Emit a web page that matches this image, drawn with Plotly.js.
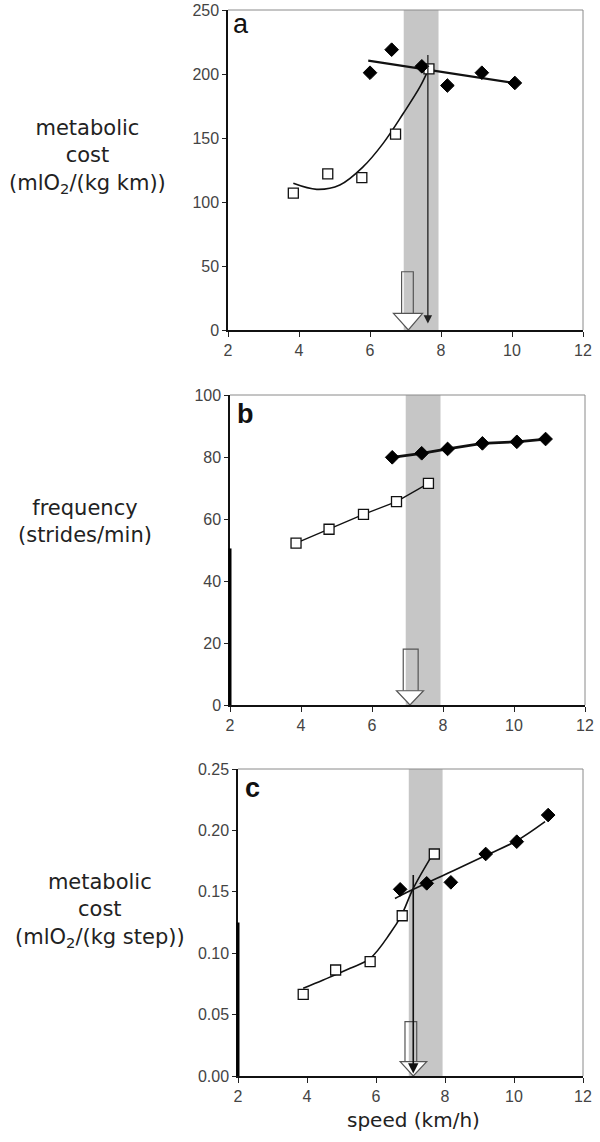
<!DOCTYPE html>
<html>
<head>
<meta charset="utf-8">
<script src="https://cdn.plot.ly/plotly-3.0.1.min.js"></script>
<style>html,body{margin:0;padding:0;background:#fff;}#chart{width:600px;height:1142px;}</style>
</head>
<body>
<div id="chart"></div>
<script>
// ---------- data ----------
const xTicks = [2, 4, 6, 8, 10, 12];
const bandRange = [6.95, 7.93];

// panel a: metabolic cost per km
const aWalkX = [3.84, 4.81, 5.77, 6.72, 7.66];
const aWalkY = [107, 122, 119, 153, 204];
const aRunX = [6.0, 6.61, 7.46, 8.18, 9.15, 10.08];
const aRunY = [201, 219, 206, 191, 201, 193];
const aWalkFitX = [3.84, 4.50, 5.15, 5.81, 6.37, 6.94, 7.41, 7.66];
const aWalkFitY = [114.6, 109.9, 113.3, 127.6, 145.8, 169.3, 190.1, 204.4];
const aRunFitX = [5.95, 10.13];
const aRunFitY = [210.4, 192.7];
const aArrowX = 7.63, aArrowY = [216, 5];
const aShaftX = [6.89, 7.22], aShaftY = [45.5, 13];
const aHeadX = [6.66, 7.08, 7.48], aHeadY = [13, 0, 13];

// panel b: stride frequency
const bWalkX = [3.86, 4.79, 5.76, 6.69, 7.59];
const bWalkY = [52.2, 56.7, 61.5, 65.6, 71.5];
const bRunX = [6.57, 7.40, 8.13, 9.11, 10.08, 10.89];
const bRunY = [79.9, 81.2, 82.6, 84.4, 84.9, 85.8];
const bShaftX = [6.88, 7.30], bShaftY = [18, 4.6];
const bHeadX = [6.69, 7.07, 7.45], bHeadY = [4.6, 0, 4.6];

// panel c: metabolic cost per step
const cWalkX = [3.89, 4.83, 5.83, 6.76, 7.69];
const cWalkY = [0.0665, 0.0863, 0.0931, 0.1305, 0.1808];
const cRunX = [6.70, 7.47, 8.17, 9.18, 10.08, 10.99];
const cRunY = [0.152, 0.1569, 0.1577, 0.1808, 0.1908, 0.2125];
const cWalkFitX = [3.89, 4.47, 5.25, 5.83, 6.41, 6.74, 7.08, 7.66];
const cWalkFitY = [0.0714, 0.0782, 0.0877, 0.0958, 0.1162, 0.1311, 0.1528, 0.1813];
const cRunFitX = [6.55, 6.70, 8.24, 9.21, 10.08, 10.90];
const cRunFitY = [0.1445, 0.1468, 0.1672, 0.1800, 0.1916, 0.2071];
const cArrowX = 7.08, cArrowY = [0.165, 0.002];
const cShaftX = [6.84, 7.18], cShaftY = [0.0442, 0.0117];
const cHeadX = [6.70, 7.08, 7.47], cHeadY = [0.0117, 0.0, 0.0117];

// ---------- styling ----------
const tickFont = {family: 'Liberation Sans, Arial, sans-serif', size: 16, color: '#444'};
const labelFont = {family: 'DejaVu Sans, sans-serif', size: 21, color: '#222'};
const openSq = {symbol: 'square', size: 10, color: '#fff', line: {color: '#111', width: 1.3}};
const filledDia = {symbol: 'diamond', size: 10.5, color: '#000', line: {color: '#000', width: 1}};

function fitLine(x, y, xa, ya, w, shape) {
  return {x: x, y: y, xaxis: xa, yaxis: ya, mode: 'lines', hoverinfo: 'skip',
          line: {color: '#111', width: w, shape: shape || 'linear', smoothing: 1}};
}
function pts(x, y, xa, ya, marker) {
  return {x: x, y: y, xaxis: xa, yaxis: ya, mode: 'markers', marker: marker, hoverinfo: 'skip'};
}
function linePts(x, y, xa, ya, marker, w) {
  return {x: x, y: y, xaxis: xa, yaxis: ya, mode: 'lines+markers', marker: marker,
          line: {color: '#111', width: w}, hoverinfo: 'skip'};
}

const traces = [
  fitLine(aWalkFitX, aWalkFitY, 'x', 'y', 1.6, 'spline'),
  fitLine(aRunFitX, aRunFitY, 'x', 'y', 2.2),
  pts(aWalkX, aWalkY, 'x', 'y', openSq),
  pts(aRunX, aRunY, 'x', 'y', filledDia),

  linePts(bWalkX, bWalkY, 'x2', 'y2', openSq, 1.3),
  linePts(bRunX, bRunY, 'x2', 'y2', filledDia, 2.8),

  fitLine(cWalkFitX, cWalkFitY, 'x3', 'y3', 1.6, 'spline'),
  fitLine(cRunFitX, cRunFitY, 'x3', 'y3', 1.6, 'spline'),
  pts(cWalkX, cWalkY, 'x3', 'y3', openSq),
  pts(cRunX, cRunY, 'x3', 'y3', filledDia)
];

function xAxis(domain, anchor) {
  return {domain: domain, anchor: anchor, range: [2, 12], tickvals: xTicks,
          ticks: 'outside', ticklen: 5, tickcolor: '#222', showline: true, linecolor: '#111',
          linewidth: 1.5, showgrid: false, zeroline: false, tickfont: tickFont, fixedrange: true};
}
function yAxis(domain, anchor, range, dtick, fmt) {
  return {domain: domain, anchor: anchor, range: range, dtick: dtick, tick0: 0, tickformat: fmt,
          ticks: 'outside', ticklen: 4, tickcolor: '#222', showline: true, linecolor: '#111',
          linewidth: 1.7, showgrid: false, zeroline: false, tickfont: tickFont, fixedrange: true};
}

const W = 600, H = 1142;
const px = v => v / W, py = v => 1 - v / H;

const shapes = [];
const annotations = [];
[['x', 'y'], ['x2', 'y2'], ['x3', 'y3']].forEach(([xa, ya]) => {
  shapes.push({type: 'rect', xref: xa, yref: ya + ' domain', x0: bandRange[0], x1: bandRange[1],
               y0: 0, y1: 1, fillcolor: '#c6c6c6', line: {width: 0}, layer: 'below'});
  shapes.push({type: 'line', xref: xa + ' domain', yref: ya + ' domain', x0: 0, x1: 1, y0: 1, y1: 1,
               line: {color: '#8a8a8a', width: 1}});
  shapes.push({type: 'line', xref: xa + ' domain', yref: ya + ' domain', x0: 1, x1: 1, y0: 0, y1: 1,
               line: {color: '#8a8a8a', width: 1}});
});

function hollowArrow(xa, ya, sx, sy, hx, hy) {
  shapes.push({type: 'path', xref: xa, yref: ya,
    path: `M ${sx[0]},${sy[1]} L ${sx[0]},${sy[0]} L ${sx[1]},${sy[0]} L ${sx[1]},${sy[1]}`,
    line: {color: '#555', width: 1.2}});
  shapes.push({type: 'path', xref: xa, yref: ya,
    path: `M ${hx[0]},${hy[0]} L ${hx[1]},${hy[1]} L ${hx[2]},${hy[2]} Z`,
    fillcolor: '#fff', line: {color: '#555', width: 1.2}});
}
hollowArrow('x', 'y', aShaftX, aShaftY, aHeadX, aHeadY);
hollowArrow('x2', 'y2', bShaftX, bShaftY, bHeadX, bHeadY);
hollowArrow('x3', 'y3', cShaftX, cShaftY, cHeadX, cHeadY);

// thicker scanned axis segments
shapes.push({type: 'line', xref: 'x2 domain', yref: 'y2', x0: 0, x1: 0, y0: 0, y1: 50.5,
             line: {color: '#000', width: 3}});
shapes.push({type: 'line', xref: 'x3 domain', yref: 'y3', x0: 0, x1: 0, y0: 0, y1: 0.125,
             line: {color: '#000', width: 3}});

// solid arrows
annotations.push({xref: 'x', yref: 'y', axref: 'x', ayref: 'y', x: aArrowX, y: aArrowY[1],
  ax: aArrowX, ay: aArrowY[0], text: '', showarrow: true, arrowhead: 2, arrowsize: 1.3,
  arrowwidth: 1.3, arrowcolor: '#222'});
annotations.push({xref: 'x3', yref: 'y3', axref: 'x3', ayref: 'y3', x: cArrowX, y: cArrowY[1],
  ax: cArrowX, ay: cArrowY[0], text: '', showarrow: true, arrowhead: 2, arrowsize: 1.3,
  arrowwidth: 1.6, arrowcolor: '#111'});

function label(x, y, text, font) {
  annotations.push({xref: 'paper', yref: 'paper', x: px(x), y: py(y), text: text, showarrow: false,
    xanchor: 'center', yanchor: 'middle', align: 'center', font: font});
}
const letterFont = {family: 'Liberation Sans, Arial, sans-serif', size: 27, color: '#111'};
label(241, 24, 'a', letterFont);
label(245, 414, '<b>b</b>', letterFont);
label(252, 788, '<b>c</b>', letterFont);

label(87, 157, 'metabolic<br>cost<br>(mlO<sub>2</sub>/(kg km))', labelFont);
label(85, 521, 'frequency<br>(strides/min)', labelFont);
label(100, 910, 'metabolic<br>cost<br>(mlO<sub>2</sub>/(kg step))', labelFont);
label(413, 1120, 'speed (km/h)', {family: 'DejaVu Sans, sans-serif', size: 20, color: '#222'});

const layout = {
  width: W, height: H, margin: {l: 0, r: 0, t: 0, b: 0},
  paper_bgcolor: '#fff', plot_bgcolor: 'rgba(0,0,0,0)', showlegend: false,
  xaxis: xAxis([px(228), px(583)], 'y'),
  yaxis: yAxis([py(330), py(10)], 'x', [0, 250], 50),
  xaxis2: xAxis([px(230), px(585)], 'y2'),
  yaxis2: yAxis([py(705), py(395)], 'x2', [0, 100], 20),
  xaxis3: xAxis([px(238), px(583)], 'y3'),
  yaxis3: yAxis([py(1076), py(769)], 'x3', [0, 0.25], 0.05, '.2f'),
  shapes: shapes, annotations: annotations
};

Plotly.newPlot('chart', traces, layout, {displayModeBar: false, staticPlot: true});
</script>
</body>
</html>
